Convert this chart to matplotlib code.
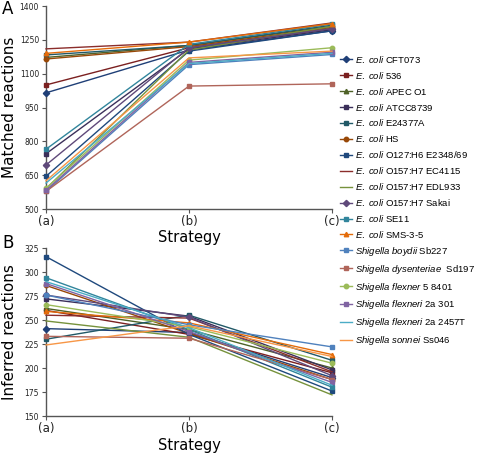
import matplotlib
matplotlib.use("Agg")
import matplotlib.pyplot as plt
from matplotlib.lines import Line2D

plt.rcParams['font.family'] = ['DejaVu Sans']
plt.rcParams['mathtext.fontset'] = 'custom'
plt.rcParams['mathtext.rm'] = 'Liberation Sans'
plt.rcParams['mathtext.it'] = 'Liberation Sans:italic'

strategies = ['(a)', '(b)', '(c)']

strains = [
    r'$\it{E.\ coli}$ CFT073',
    r'$\it{E.\ coli}$ 536',
    r'$\it{E.\ coli}$ APEC O1',
    r'$\it{E.\ coli}$ ATCC8739',
    r'$\it{E.\ coli}$ E24377A',
    r'$\it{E.\ coli}$ HS',
    r'$\it{E.\ coli}$ O127:H6 E2348/69',
    r'$\it{E.\ coli}$ O157:H7 EC4115',
    r'$\it{E.\ coli}$ O157:H7 EDL933',
    r'$\it{E.\ coli}$ O157:H7 Sakai',
    r'$\it{E.\ coli}$ SE11',
    r'$\it{E.\ coli}$ SMS-3-5',
    r'$\it{Shigella\ boydii}$ Sb227',
    r'$\it{Shigella\ dysenteriae}$  Sd197',
    r'$\it{Shigella\ flexner}$ 5 8401',
    r'$\it{Shigella\ flexneri}$ 2a 301',
    r'$\it{Shigella\ flexneri}$ 2a 2457T',
    r'$\it{Shigella\ sonnei}$ Ss046',
]

colors = ['#1F3F77', '#7B2020', '#4F6228', '#3B2F5A', '#215967', '#984807',
          '#1F497D', '#8B2D2B', '#76923C', '#5F497A', '#31859C', '#E46C0A',
          '#4F81BD', '#B0655A', '#9BBB59', '#8064A2', '#4BACC6', '#F79646']
markers = ['D', 's', '^', 's', 's', 'o', 's', None, None, 'D', 's', '^',
           's', 's', 'o', 's', None, None]

# Panel A: matched reactions at strategies (a), (b), (c)
matched = [
    [1015, 1205, 1290],
    [1050, 1215, 1300],
    [1172, 1225, 1310],
    [745, 1210, 1295],
    [1183, 1225, 1315],
    [1165, 1220, 1305],
    [645, 1200, 1290],
    [1210, 1240, 1325],
    [590, 1205, 1310],
    [695, 1215, 1300],
    [765, 1230, 1320],
    [1190, 1240, 1322],
    [578, 1140, 1185],
    [578, 1045, 1055],
    [592, 1160, 1215],
    [583, 1150, 1195],
    [615, 1145, 1190],
    [625, 1170, 1200],
]

# Panel B: inferred reactions
inferred = [
    [241, 237, 190],
    [260, 235, 195],
    [262, 240, 200],
    [272, 254, 198],
    [230, 255, 208],
    [286, 236, 188],
    [316, 235, 176],
    [255, 252, 196],
    [249, 232, 172],
    [276, 253, 192],
    [294, 240, 180],
    [259, 247, 214],
    [276, 245, 222],
    [233, 231, 188],
    [266, 243, 205],
    [288, 238, 185],
    [290, 242, 182],
    [224, 244, 212],
]

W, H = 480, 454
fig = plt.figure(figsize=(W / 100, H / 100), dpi=100)

def px_axes(left, top, right, bottom):
    return fig.add_axes([left / W, 1 - bottom / H, (right - left) / W, (bottom - top) / H])

axA = px_axes(46, 6, 332, 209)
axB = px_axes(46, 248, 332, 416)

x = list(range(len(strategies)))
for ax, data in ((axA, matched), (axB, inferred)):
    for vals, c, m in zip(data, colors, markers):
        ax.plot(x, vals, color=c, lw=1.0, marker=m, ms=3.2, clip_on=False, zorder=3)
    ax.set_xlim(0, 2)
    ax.set_xticks(x)
    ax.set_xticklabels(strategies, fontsize=8.5, color='#222222')
    for s in ('top', 'right'):
        ax.spines[s].set_visible(False)
    for s in ('left', 'bottom'):
        ax.spines[s].set_color('#555555')
        ax.spines[s].set_linewidth(1.0)
    ax.tick_params(axis='y', labelsize=5.5, length=3, width=0.8, color='#555555', labelcolor='#222222', pad=2)
    ax.tick_params(axis='x', length=3, width=0.8, color='#555555', pad=1.5)
    ax.set_xlabel('Strategy', fontsize=10.5)

axA.set_ylim(500, 1400)
axA.set_yticks([500, 650, 800, 950, 1100, 1250, 1400])
axA.set_ylabel('Matched reactions', fontsize=11)
axA.yaxis.set_label_coords(-0.1, 0.5)
axA.xaxis.set_label_coords(0.5, -0.105)

axB.set_ylim(150, 325)
axB.set_yticks([150, 175, 200, 225, 250, 275, 300, 325])
axB.set_ylabel('Inferred reactions', fontsize=11)
axB.yaxis.set_label_coords(-0.1, 0.5)
axB.xaxis.set_label_coords(0.5, -0.128)

fig.text(8 / W, 1 - 9 / H, 'A', fontsize=12, ha='center', va='center')
fig.text(8 / W, 1 - 243 / H, 'B', fontsize=12, ha='center', va='center')

handles = [Line2D([0], [0], color=c, lw=1.0, marker=m, ms=3.2) for c, m in zip(colors, markers)]
fig.legend(handles, strains, loc='upper left', bbox_to_anchor=(336 / W, 1 - 50 / H),
           frameon=False, prop={'family': 'Liberation Sans', 'size': 6.8},
           handlelength=1.3, handletextpad=0.3, labelspacing=0.52, borderaxespad=0)

fig.savefig('out.png', dpi=100)
